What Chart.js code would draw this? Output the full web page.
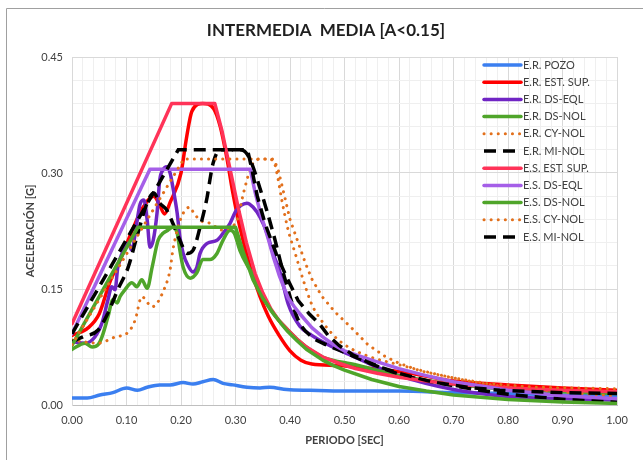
<!DOCTYPE html>
<html lang="es">
<head>
<meta charset="UTF-8" />
<title>Intermedia Media</title>
<script src="https://cdn.jsdelivr.net/npm/chart.js"></script>
<style>
  body { margin: 0; background: #fff; }
  canvas { display: block; }
</style>
</head>
<body>
<canvas id="espectros" width="643" height="460"></canvas>
<script>
  // periodos [s] y aceleraciones [g]
  const tErPozo = [0, 0.028, 0.051, 0.075, 0.10, 0.12, 0.138, 0.161, 0.18, 0.204, 0.222, 0.24, 0.259, 0.277, 0.295, 0.321, 0.345, 0.363, 0.394, 0.437, 0.5, 0.6, 0.7, 0.8, 0.9, 1.0];
  const saErPozo = [0.009, 0.009, 0.013, 0.016, 0.022, 0.019, 0.023, 0.026, 0.026, 0.029, 0.027, 0.03, 0.033, 0.028, 0.026, 0.023, 0.022, 0.023, 0.02, 0.019, 0.018, 0.018, 0.016, 0.015, 0.013, 0.012];

  const tErEst = [0, 0.03, 0.05, 0.07, 0.09, 0.11, 0.13, 0.15, 0.16, 0.17, 0.18, 0.2, 0.21, 0.22, 0.24, 0.26, 0.272, 0.284, 0.295, 0.308, 0.327, 0.345, 0.36, 0.38, 0.40, 0.42, 0.44, 0.49, 0.52, 0.57, 0.62, 0.7, 0.8, 0.9, 1.0];
  const saErEst = [0.09, 0.1, 0.118, 0.16, 0.19, 0.225, 0.255, 0.27, 0.26, 0.247, 0.262, 0.3, 0.345, 0.38, 0.39, 0.383, 0.36, 0.32, 0.275, 0.23, 0.178, 0.14, 0.115, 0.09, 0.07, 0.058, 0.053, 0.051, 0.049, 0.046, 0.041, 0.031, 0.026, 0.022, 0.019];

  const tErDsEql = [0, 0.024, 0.042, 0.055, 0.066, 0.073, 0.079, 0.084, 0.092, 0.103, 0.11, 0.116, 0.125, 0.132, 0.138, 0.143, 0.149, 0.156, 0.161, 0.167, 0.174, 0.18, 0.185, 0.193, 0.198, 0.204, 0.213, 0.222, 0.229, 0.235, 0.248, 0.266, 0.277, 0.29, 0.3, 0.31, 0.321, 0.332, 0.345, 0.358, 0.369, 0.382, 0.397, 0.418, 0.44, 0.47, 0.5, 0.55, 0.6, 0.7, 0.8, 0.9, 1.0];
  const saErDsEql = [0.082, 0.08, 0.088, 0.106, 0.136, 0.153, 0.149, 0.178, 0.196, 0.209, 0.2, 0.222, 0.26, 0.265, 0.239, 0.204, 0.213, 0.248, 0.291, 0.304, 0.308, 0.3, 0.282, 0.248, 0.217, 0.196, 0.18, 0.172, 0.178, 0.196, 0.209, 0.213, 0.222, 0.235, 0.25, 0.258, 0.261, 0.256, 0.243, 0.222, 0.196, 0.171, 0.13, 0.102, 0.09, 0.078, 0.068, 0.052, 0.038, 0.02, 0.011, 0.008, 0.006];

  const tErDsNol = [0, 0.024, 0.037, 0.048, 0.055, 0.066, 0.075, 0.083, 0.088, 0.097, 0.11, 0.119, 0.128, 0.138, 0.147, 0.158, 0.167, 0.176, 0.185, 0.193, 0.198, 0.204, 0.217, 0.229, 0.24, 0.253, 0.266, 0.277, 0.29, 0.298, 0.308, 0.322, 0.336, 0.36, 0.396, 0.428, 0.46, 0.52, 0.6, 0.7, 0.8, 0.9, 1.0];
  const saErDsNol = [0.072, 0.08, 0.075, 0.078, 0.088, 0.114, 0.136, 0.132, 0.14, 0.149, 0.158, 0.153, 0.162, 0.151, 0.178, 0.213, 0.222, 0.226, 0.23, 0.222, 0.2, 0.178, 0.164, 0.171, 0.188, 0.188, 0.196, 0.213, 0.226, 0.222, 0.2, 0.18, 0.165, 0.128, 0.097, 0.076, 0.062, 0.052, 0.038, 0.027, 0.02, 0.017, 0.015];

  const tErCyNol = [0, 0.048, 0.079, 0.103, 0.116, 0.128, 0.147, 0.171, 0.18, 0.185, 0.193, 0.204, 0.217, 0.222, 0.235, 0.253, 0.277, 0.29, 0.303, 0.315, 0.33, 0.345, 0.36, 0.37, 0.376, 0.385, 0.396, 0.41, 0.425, 0.44, 0.455, 0.48, 0.5, 0.54, 0.6, 0.7, 0.8, 0.9, 1.0];
  const saErCyNol = [0.084, 0.08, 0.088, 0.094, 0.11, 0.14, 0.127, 0.153, 0.175, 0.2, 0.226, 0.248, 0.256, 0.25, 0.239, 0.235, 0.226, 0.23, 0.239, 0.275, 0.31, 0.318, 0.318, 0.315, 0.3, 0.265, 0.228, 0.195, 0.16, 0.13, 0.112, 0.09, 0.078, 0.064, 0.052, 0.035, 0.023, 0.017, 0.011];

  const tErMiNol = [0, 0.02, 0.048, 0.066, 0.084, 0.103, 0.12, 0.14, 0.15, 0.161, 0.174, 0.185, 0.198, 0.211, 0.222, 0.235, 0.248, 0.253, 0.259, 0.272, 0.29, 0.31, 0.325, 0.345, 0.37, 0.39, 0.415, 0.44, 0.46, 0.5, 0.55, 0.6, 0.7, 0.8, 0.9, 1.0];
  const saErMiNol = [0.082, 0.088, 0.097, 0.119, 0.149, 0.178, 0.22, 0.265, 0.274, 0.261, 0.252, 0.235, 0.213, 0.196, 0.2, 0.23, 0.269, 0.291, 0.313, 0.33, 0.33, 0.33, 0.32, 0.28, 0.22, 0.165, 0.11, 0.088, 0.08, 0.068, 0.053, 0.04, 0.025, 0.014, 0.008, 0.004];

  const tEsEst = [0, 0.183, 0.262, 0.275, 0.29, 0.305, 0.32, 0.336, 0.35, 0.365, 0.38, 0.396, 0.413, 0.43, 0.46, 0.49, 0.52, 0.56, 0.6, 0.65, 0.7, 0.8, 0.9, 1.0];
  const saEsEst = [0.105, 0.39, 0.39, 0.355, 0.305, 0.255, 0.21, 0.17, 0.145, 0.124, 0.109, 0.097, 0.085, 0.075, 0.062, 0.054, 0.047, 0.041, 0.036, 0.031, 0.027, 0.022, 0.019, 0.017];

  const tEsDsEql = [0, 0.143, 0.327, 0.336, 0.345, 0.36, 0.37, 0.38, 0.39, 0.397, 0.408, 0.418, 0.44, 0.46, 0.48, 0.5, 0.55, 0.6, 0.65, 0.7, 0.8, 0.9, 1.0];
  const saEsDsEql = [0.092, 0.305, 0.305, 0.275, 0.25, 0.215, 0.19, 0.168, 0.15, 0.138, 0.127, 0.118, 0.1, 0.088, 0.078, 0.07, 0.058, 0.047, 0.038, 0.03, 0.019, 0.012, 0.008];

  const tEsDsNol = [0, 0.121, 0.30, 0.315, 0.332, 0.35, 0.37, 0.383, 0.396, 0.413, 0.43, 0.46, 0.48, 0.5, 0.55, 0.6, 0.65, 0.7, 0.8, 0.9, 1.0];
  const saEsDsNol = [0.077, 0.23, 0.23, 0.196, 0.162, 0.138, 0.118, 0.106, 0.095, 0.083, 0.072, 0.058, 0.051, 0.045, 0.033, 0.024, 0.018, 0.013, 0.007, 0.004, 0.002];

  const tEsCyNol = [0, 0.205, 0.37, 0.378, 0.39, 0.40, 0.409, 0.415, 0.428, 0.44, 0.459, 0.483, 0.514, 0.543, 0.574, 0.6, 0.64, 0.7, 0.76, 0.85, 1.0];
  const saEsCyNol = [0.078, 0.318, 0.318, 0.305, 0.27, 0.24, 0.222, 0.21, 0.184, 0.163, 0.14, 0.12, 0.099, 0.078, 0.063, 0.054, 0.044, 0.035, 0.028, 0.023, 0.021];

  const tEsMiNol = [0, 0.195, 0.322, 0.33, 0.34, 0.354, 0.375, 0.394, 0.415, 0.435, 0.455, 0.47, 0.49, 0.515, 0.541, 0.57, 0.6, 0.66, 0.725, 0.785, 0.9, 1.0];
  const saEsMiNol = [0.092, 0.33, 0.33, 0.305, 0.27, 0.235, 0.195, 0.165, 0.135, 0.118, 0.104, 0.09, 0.077, 0.065, 0.056, 0.048, 0.041, 0.03, 0.023, 0.019, 0.016, 0.015];

  const etiquetas = ['E.R. POZO', 'E.R. EST. SUP.', 'E.R. DS-EQL', 'E.R. DS-NOL', 'E.R. CY-NOL', 'E.R. MI-NOL',
    'E.S. EST. SUP.', 'E.S. DS-EQL', 'E.S. DS-NOL', 'E.S. CY-NOL', 'E.S. MI-NOL'];
  const periodos = [tErPozo, tErEst, tErDsEql, tErDsNol, tErCyNol, tErMiNol, tEsEst, tEsDsEql, tEsDsNol, tEsCyNol, tEsMiNol];
  const aceleraciones = [saErPozo, saErEst, saErDsEql, saErDsNol, saErCyNol, saErMiNol, saEsEst, saEsDsEql, saEsDsNol, saEsCyNol, saEsMiNol];

  const fuente = 'Lato, "Open Sans", sans-serif';
  const verde = '#4fa52a';
  const naranja = '#e2701c';

  const solida = c => ({ borderColor: c, borderWidth: 3.5, borderCapStyle: 'round', borderJoinStyle: 'round' });
  const punteada = c => ({ borderColor: c, borderWidth: 3, borderDash: [0.1, 7], borderCapStyle: 'round' });
  const discontinua = c => ({ borderColor: c, borderWidth: 3.5, borderDash: [12, 7], borderCapStyle: 'butt' });

  const estilos = [
    solida('#3b7ff0'), solida('#ff0000'), solida('#7025c4'), solida(verde), punteada(naranja), discontinua('#000000'),
    solida('#ff3358'), solida('#a55fe8'), solida(verde), punteada(naranja), discontinua('#000000')
  ];

  const datasets = [];
  for (let i = 0; i < etiquetas.length; i++) {
    const puntos = periodos[i].map((t, k) => ({ x: t, y: aceleraciones[i][k] }));
    const espectroSuavizado = etiquetas[i].startsWith('E.S.');
    datasets.push(Object.assign({
      label: etiquetas[i],
      data: puntos,
      fill: false,
      pointRadius: 0,
      // los espectros suavizados tienen tramos rectos: sin curva en las esquinas
      cubicInterpolationMode: espectroSuavizado ? 'default' : 'monotone',
      tension: 0,
      order: -i
    }, estilos[i]));
  }

  function esMayor(v, paso) {
    return Math.abs(v / paso - Math.round(v / paso)) < 1e-6;
  }

  const marco = {
    id: 'marco',
    beforeDraw(chart) {
      const ctx = chart.ctx;
      ctx.save();
      ctx.strokeStyle = '#a0a0a0';
      ctx.lineWidth = 1;
      ctx.beginPath();
      ctx.moveTo(6.5, chart.height);
      ctx.lineTo(6.5, 8.5);
      ctx.lineTo(chart.width, 8.5);
      ctx.stroke();
      ctx.restore();
    }
  };

  const leyenda = {
    id: 'leyenda',
    afterDatasetsDraw(chart) {
      const ctx = chart.ctx;
      const area = chart.chartArea;
      const x0 = area.right - 133;
      ctx.save();
      ctx.font = '11px ' + fuente;
      ctx.textBaseline = 'middle';
      chart.data.datasets.forEach((ds, i) => {
        const y = area.top + 8 + i * 17.2;
        ctx.beginPath();
        ctx.strokeStyle = ds.borderColor;
        ctx.lineWidth = ds.borderWidth;
        ctx.lineCap = ds.borderCapStyle || 'butt';
        ctx.setLineDash(ds.borderDash || []);
        ctx.moveTo(x0, y);
        ctx.lineTo(x0 + 37, y);
        ctx.stroke();
        ctx.setLineDash([]);
        ctx.fillStyle = '#404040';
        ctx.fillText(ds.label, x0 + 39, y);
      });
      ctx.restore();
    }
  };

  Chart.defaults.font.family = fuente;
  Chart.defaults.color = '#404040';

  new Chart(document.getElementById('espectros'), {
    type: 'line',
    data: { datasets },
    options: {
      responsive: false,
      animation: false,
      layout: { padding: { left: 35, right: 26, top: 0, bottom: 0 } },
      plugins: {
        legend: { display: false },
        tooltip: { enabled: false },
        title: {
          display: true,
          text: 'INTERMEDIA  MEDIA [A<0.15]',
          color: '#1f1f1f',
          font: { size: 17, weight: 'bold' },
          padding: { top: 20, bottom: 16.6 }
        }
      },
      scales: {
        x: {
          type: 'linear',
          min: 0,
          max: 1,
          afterFit: s => { s.height = 55; },
          ticks: {
            stepSize: 0.02,
            autoSkip: false,
            maxRotation: 0,
            padding: 9,
            font: { size: 11 },
            callback: v => esMayor(v, 0.1) ? v.toFixed(2) : ''
          },
          grid: {
            drawTicks: false,
            color: c => (c.tick && esMayor(c.tick.value, 0.1)) ? '#d9d9d9' : '#efefef'
          },
          border: { color: '#bfbfbf' },
          title: {
            display: true,
            text: 'PERIODO [SEC]',
            font: { size: 11, weight: 'bold' },
            padding: { top: 0, bottom: 13 }
          }
        },
        y: {
          min: 0,
          max: 0.45,
          afterFit: s => { s.width = 37; },
          ticks: {
            stepSize: 0.03,
            padding: 9,
            font: { size: 11 },
            callback: v => esMayor(v, 0.15) ? v.toFixed(2) : ''
          },
          grid: {
            drawTicks: false,
            color: c => (c.tick && esMayor(c.tick.value, 0.15)) ? '#d9d9d9' : '#efefef'
          },
          border: { color: '#d9d9d9' },
          title: {
            display: true,
            text: 'ACELERACIÓN [G]',
            font: { size: 11, weight: 'bold' },
            padding: { top: -11.6, bottom: 0 }
          }
        }
      }
    },
    plugins: [marco, leyenda]
  });
</script>
</body>
</html>
